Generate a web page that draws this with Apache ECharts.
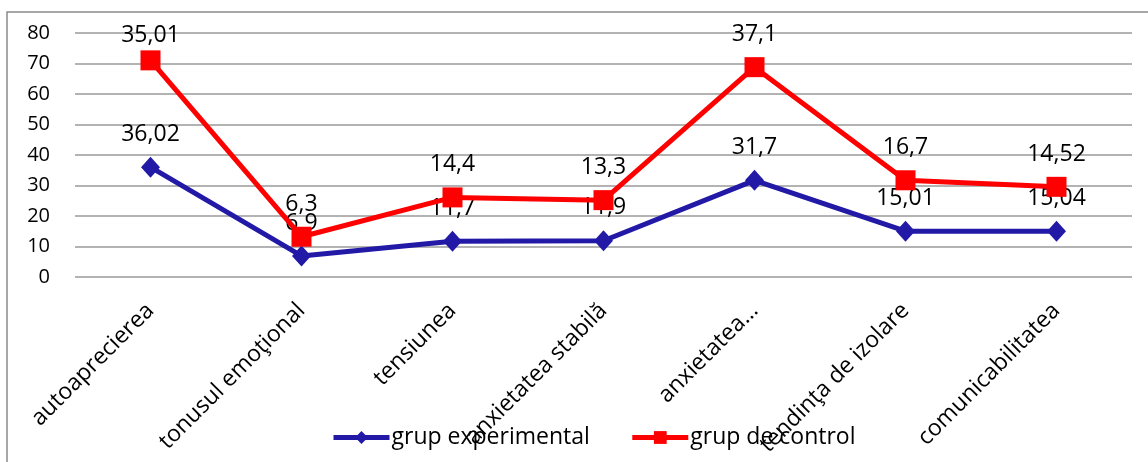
<!DOCTYPE html>
<html>
<head>
<meta charset="utf-8">
<script src="https://cdn.jsdelivr.net/npm/echarts@6/dist/echarts.min.js"></script>
<style>
  html, body { margin: 0; padding: 0; background: #fff; }
  #chart { width: 1148px; height: 462px; }
</style>
</head>
<body>
<div id="chart"></div>
<script>
// Scale categories
const categories = [
  'autoaprecierea',
  'tonusul emoţional',
  'tensiunea',
  'anxietatea stabilă',
  'anxietatea…',
  'tendinţa de izolare',
  'comunicabilitatea'
];

// Group scores (the control line is stacked on the experimental one)
const grupExperimental = [36.02, 6.9, 11.7, 11.9, 31.7, 15.01, 15.04];
const grupControl = [35.01, 6.3, 14.4, 13.3, 37.1, 16.7, 14.52];

const yTicks = { min: 0, max: 80, interval: 10 };

const FONT = '"Open Sans", "Noto Sans", sans-serif';
const BLUE = '#2219A6';
const RED = '#FF0000';

const fmt = p => String(p.value).replace('.', ',');

const chart = echarts.init(document.getElementById('chart'), null, { renderer: 'canvas' });

chart.setOption({
  animation: false,
  backgroundColor: '#fff',
  textStyle: { fontFamily: FONT },
  grid: { left: 75, right: 16, top: 33, bottom: 185, containLabel: false },
  graphic: [{
    type: 'rect',
    silent: true,
    z: -10,
    shape: { x: 7, y: 12, width: 1200, height: 500 },
    style: { fill: 'none', stroke: '#8a8a8a', lineWidth: 1.5 }
  }],
  legend: {
    left: 326,
    top: 421,
    itemWidth: 56,
    itemHeight: 16,
    itemGap: 40,
    lineStyle: { width: 5 },
    textStyle: { fontFamily: FONT, fontSize: 23, color: '#000', padding: [0, 0, 0, -3] },
    data: ['grup experimental', 'grup de control']
  },
  xAxis: {
    type: 'category',
    data: categories,
    boundaryGap: true,
    axisLine: { show: false },
    axisTick: { show: false },
    axisLabel: {
      interval: 0,
      rotate: 45,
      margin: 30,
      fontFamily: FONT,
      fontSize: 23,
      color: '#000'
    }
  },
  yAxis: {
    type: 'value',
    min: yTicks.min,
    max: yTicks.max,
    interval: yTicks.interval,
    axisLine: { show: false },
    axisTick: { show: false },
    axisLabel: { margin: 25, fontFamily: FONT, fontSize: 20, color: '#000' },
    splitLine: { lineStyle: { color: '#9a9a9a', width: 1.6 } }
  },
  series: [
    {
      name: 'grup experimental',
      type: 'line',
      stack: 'total',
      data: grupExperimental,
      symbol: 'diamond',
      symbolSize: [19, 21],
      lineStyle: { color: BLUE, width: 5 },
      itemStyle: { color: BLUE },
      label: {
        show: true,
        position: 'top',
        distance: 11,
        formatter: fmt,
        fontFamily: FONT,
        fontSize: 23,
        color: '#000'
      },
      z: 3
    },
    {
      name: 'grup de control',
      type: 'line',
      stack: 'total',
      data: grupControl.map((v, i) => i === 0 ? { value: v, label: { distance: 3 } } : v),
      symbol: 'rect',
      symbolSize: 20,
      lineStyle: { color: RED, width: 5 },
      itemStyle: { color: RED },
      label: {
        show: true,
        position: 'top',
        distance: 11,
        formatter: fmt,
        fontFamily: FONT,
        fontSize: 23,
        color: '#000'
      },
      z: 4
    }
  ]
});
</script>
</body>
</html>
